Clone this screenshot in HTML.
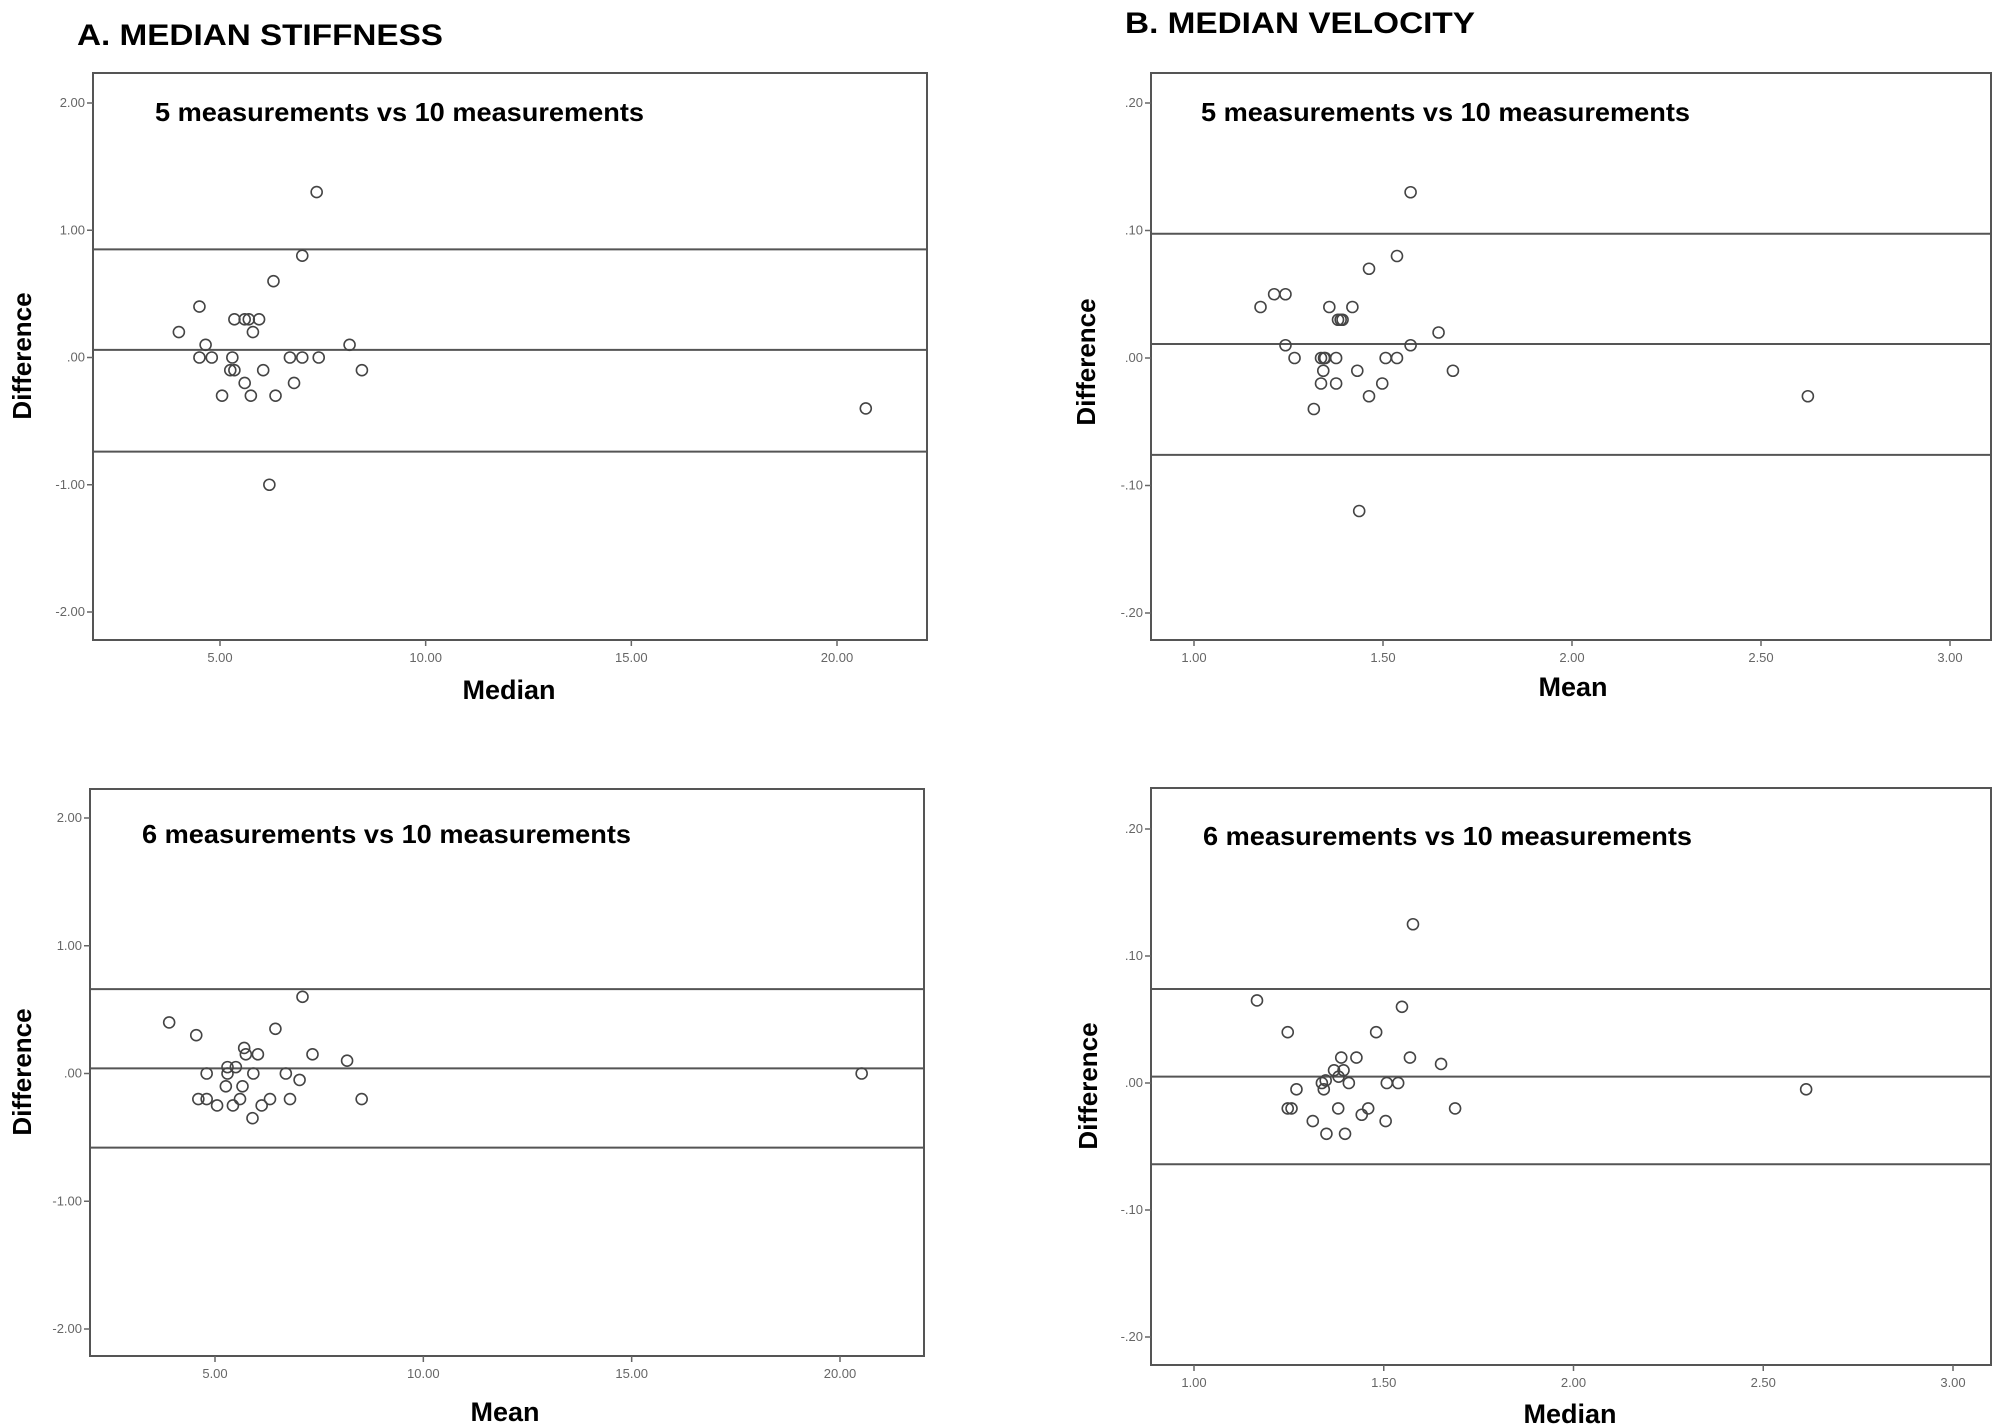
<!DOCTYPE html>
<html><head><meta charset="utf-8"><style>
html,body{margin:0;padding:0;background:#fff;}
svg{display:block;font-family:"Liberation Sans",sans-serif;}
</style></head><body>
<svg id="c" width="2000" height="1426" viewBox="0 0 2000 1426">
<text x="77" y="45" font-size="30" font-weight="bold" textLength="366" lengthAdjust="spacingAndGlyphs">A. MEDIAN STIFFNESS</text>
<text x="1125" y="33" font-size="30" font-weight="bold" textLength="350" lengthAdjust="spacingAndGlyphs">B. MEDIAN VELOCITY</text>
</svg>
<script>
// Panel A top: 5 vs 10, stiffness
const aTopX=[4.0,4.5,4.65,4.5,4.8,5.05,5.35,5.3,5.25,5.35,5.6,5.7,5.6,5.8,5.75,5.95,6.05,6.3,6.2,6.35,6.7,6.8,7.0,7.0,7.35,7.4,8.15,8.45,20.7];
const aTopY=[0.2,0.4,0.1,0,0,-0.3,0.3,0,-0.1,-0.1,0.3,0.3,-0.2,0.2,-0.3,0.3,-0.1,0.6,-1.0,-0.3,0,-0.2,0,0.8,1.3,0,0.1,-0.1,-0.4];
const aTopLines=[0.85,0.06,-0.74];
// Panel A bottom: 6 vs 10, stiffness
const aBotX=[3.9,4.55,4.6,4.8,4.8,5.05,5.26,5.3,5.3,5.43,5.5,5.6,5.66,5.7,5.74,5.9,5.92,6.03,6.12,6.32,6.45,6.7,6.8,7.03,7.1,7.34,8.17,8.52,20.52];
const aBotY=[0.4,0.3,-0.2,0,-0.2,-0.25,-0.1,0.05,0,-0.25,0.05,-0.2,-0.1,0.2,0.15,-0.35,0,0.15,-0.25,-0.2,0.35,0,-0.2,-0.05,0.6,0.15,0.1,-0.2,0];
const aBotLines=[0.66,0.04,-0.58];
// Panel B top: 5 vs 10, velocity
const bTopX=[1.176,1.212,1.242,1.242,1.266,1.317,1.336,1.336,1.344,1.347,1.342,1.358,1.376,1.376,1.381,1.388,1.393,1.419,1.432,1.437,1.463,1.463,1.498,1.507,1.537,1.537,1.573,1.573,1.647,1.685,2.624];
const bTopY=[0.04,0.05,0.05,0.01,0,-0.04,-0.02,0,0,0,-0.01,0.04,0,-0.02,0.03,0.03,0.03,0.04,-0.01,-0.12,0.07,-0.03,-0.02,0,0.08,0,0.13,0.01,0.02,-0.01,-0.03];
const bTopLines=[0.0975,0.011,-0.076];
// Panel B bottom: 6 vs 10, velocity
const bBotX=[1.166,1.247,1.247,1.257,1.27,1.313,1.337,1.342,1.347,1.349,1.369,1.38,1.381,1.388,1.394,1.398,1.408,1.428,1.442,1.459,1.48,1.505,1.508,1.538,1.548,1.569,1.577,1.651,1.688,2.613];
const bBotY=[0.065,0.04,-0.02,-0.02,-0.005,-0.03,0,-0.005,0.002,-0.04,0.01,-0.02,0.005,0.02,0.01,-0.04,0,0.02,-0.025,-0.02,0.04,-0.03,0,0,0.06,0.02,0.125,0.015,-0.02,-0.005];
const bBotLines=[0.074,0.005,-0.064];
const stiffYTicks=["2.00","1.00",".00","-1.00","-2.00"];
const stiffYVals=[2,1,0,-1,-2];
const stiffXTicks=["5.00","10.00","15.00","20.00"];
const stiffXVals=[5,10,15,20];
const velYTicks=[".20",".10",".00","-.10","-.20"];
const velYVals=[0.2,0.1,0,-0.1,-0.2];
const velXTicks=["1.00","1.50","2.00","2.50","3.00"];
const velXVals=[1,1.5,2,2.5,3];

const NS="http://www.w3.org/2000/svg";
const svg=document.getElementById('c');
function mk(tag,attrs,parent){const e=document.createElementNS(NS,tag);for(const k in attrs)e.setAttribute(k,attrs[k]);(parent||svg).appendChild(e);return e;}

const panels=[
 {id:'a-top',fx:93,fy:73,fw:834,fh:567,x0:5,px0:220,x1:20,px1:837,y0:2,py0:103,y1:-2,py1:612,X:aTopX,Y:aTopY,L:aTopLines,yt:stiffYTicks,yv:stiffYVals,xt:stiffXTicks,xv:stiffXVals,sub:"5 measurements vs 10 measurements",sx:155,sy:121,xl:"Median",xlx:509,xly:699,dx:22,dy:356},
 {id:'a-bot',fx:90,fy:789,fw:834,fh:567,x0:5,px0:215,x1:20,px1:840,y0:2,py0:818,y1:-2,py1:1329,X:aBotX,Y:aBotY,L:aBotLines,yt:stiffYTicks,yv:stiffYVals,xt:stiffXTicks,xv:stiffXVals,sub:"6 measurements vs 10 measurements",sx:142,sy:843,xl:"Mean",xlx:505,xly:1421,dx:22,dy:1072},
 {id:'b-top',fx:1151,fy:73,fw:840,fh:567,x0:1,px0:1194,x1:3,px1:1950,y0:0.2,py0:103,y1:-0.2,py1:613,X:bTopX,Y:bTopY,L:bTopLines,yt:velYTicks,yv:velYVals,xt:velXTicks,xv:velXVals,sub:"5 measurements vs 10 measurements",sx:1201,sy:121,xl:"Mean",xlx:1573,xly:696,dx:1086,dy:362},
 {id:'b-bot',fx:1151,fy:788,fw:840,fh:577,x0:1,px0:1194,x1:3,px1:1953,y0:0.2,py0:829,y1:-0.2,py1:1337,X:bBotX,Y:bBotY,L:bBotLines,yt:velYTicks,yv:velYVals,xt:velXTicks,xv:velXVals,sub:"6 measurements vs 10 measurements",sx:1203,sy:845,xl:"Median",xlx:1570,xly:1423,dx:1088,dy:1086}
];

panels.forEach(p=>{
 const g=mk('g',{});
 
 
 const sx=v=>p.px0+(v-p.x0)*(p.px1-p.px0)/(p.x1-p.x0);
 const sy=v=>p.py0+(v-p.y0)*(p.py1-p.py0)/(p.y1-p.y0);
 const fr=mk('rect',{x:p.fx,y:p.fy,width:p.fw,height:p.fh,fill:'none',stroke:'#555','stroke-width':2},g);
 
 
 p.yv.forEach((v,i)=>{
  const y=sy(v);
  const t=mk('line',{x1:p.fx-6,x2:p.fx,y1:y,y2:y,stroke:'#666','stroke-width':1.5},g);
  
  
  const tx=mk('text',{x:p.fx-8,y:y+4,'font-size':13,fill:'#666','text-anchor':'end'},g);
  tx.textContent=p.yt[i];
  
  
 });
 p.xv.forEach((v,i)=>{
  const x=sx(v);
  const t=mk('line',{x1:x,x2:x,y1:p.fy+p.fh,y2:p.fy+p.fh+6,stroke:'#666','stroke-width':1.5},g);
  
  
  const tx=mk('text',{x:x,y:p.fy+p.fh+22,'font-size':13,fill:'#666','text-anchor':'middle'},g);
  tx.textContent=p.xt[i];
  
  
 });
 const lnames=['upper-limit-line','mean-difference-line','lower-limit-line'];
 p.L.forEach((v,i)=>{
  const y=sy(v);
  const l=mk('line',{x1:p.fx,x2:p.fx+p.fw,y1:y,y2:y,stroke:'#555','stroke-width':2},g);
  
  
 });
 p.X.forEach((v,i)=>{
  const c=mk('circle',{cx:sx(v),cy:sy(p.Y[i]),r:5.5,fill:'none',stroke:'#444','stroke-width':1.6},g);
  
  
 });
 const st=mk('text',{x:p.sx,y:p.sy,'font-size':26,'font-weight':'bold',textLength:489,lengthAdjust:'spacingAndGlyphs'},g);
 st.textContent=p.sub;
 
 
 const xl=mk('text',{x:p.xlx,y:p.xly,'font-size':27,'font-weight':'bold','text-anchor':'middle'},g);
 xl.textContent=p.xl;
 
 
 const yl=mk('text',{x:0,y:0,'font-size':26,'font-weight':'bold','text-anchor':'middle',transform:'translate('+(p.dx+9)+','+p.dy+') rotate(-90)'},g);
 yl.textContent='Difference';
 
 
});
</script>
</body></html>
